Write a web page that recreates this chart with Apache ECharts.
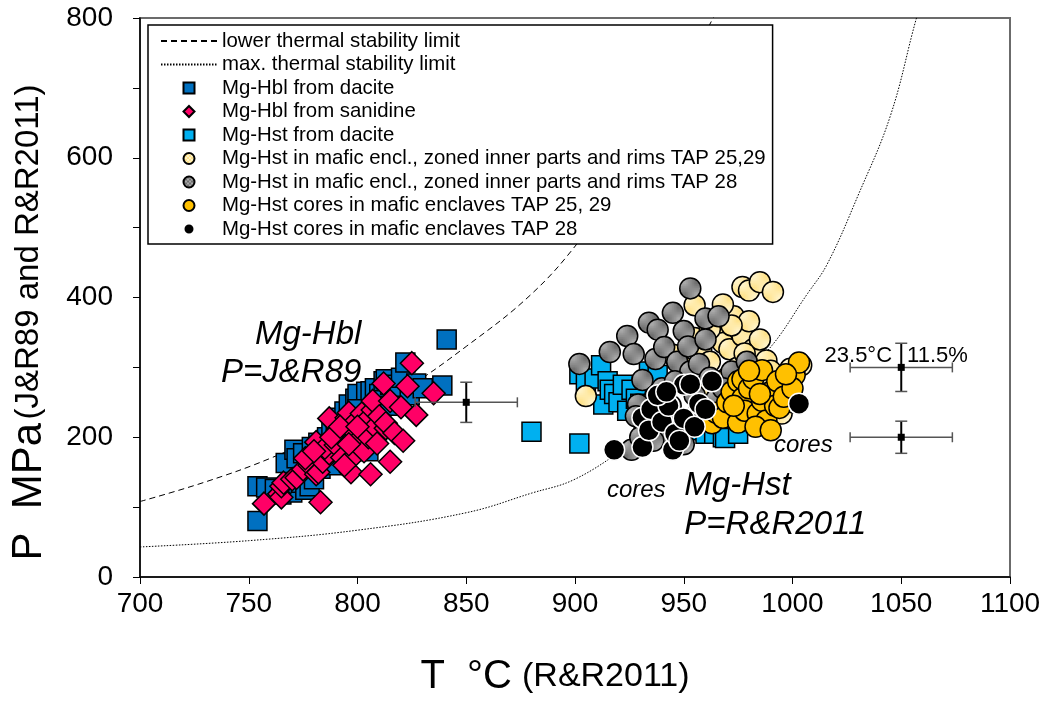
<!DOCTYPE html>
<html>
<head>
<meta charset="utf-8">
<script src="https://cdn.jsdelivr.net/npm/echarts@6/dist/echarts.min.js"></script>
<style>
  html, body { margin: 0; padding: 0; background: #fff; }
  #chart { width: 1046px; height: 702px; }
</style>
</head>
<body>
<div id="chart"></div>
<script>
// ---- Axis ticks ----
const xTicks = [700, 750, 800, 850, 900, 950, 1000, 1050, 1100];
const yTicks = [0, 200, 400, 600, 800];

// ---- Stability limit curves (T °C, P MPa) ----
const lowerLimit = [[700,108],[730,136],[760,170],[790,213],[820,265],[850,330],[880,405],[902,481],[930,600],[963,797],[966,812]];
const maxLimit = [[700,43],[750,52],[800,67],[850,92],[880,120],[900,140],[925,188],[950,238],[970,275],[988,322],[1007,406],[1016,448],[1030,545],[1045,660],[1057,800],[1059,815]];

// ---- Mg-Hbl from dacite (P = J&R89) ----
const hblDacite = [
  [754,80],[754,130],[758,128],[762,126],[765,118],[767,163],[770,121],[771,182],[772,170],[774,135],
  [775,177],[776,125],[778,130],[780,140],[779,186],[782,192],[783,155],[786,200],[787,165],[788,210],
  [790,217],[792,228],[794,237],[796,247],[797,200],[799,255],[800,262],[801,210],[803,225],[804,265],
  [806,266],[808,270],[809,210],[810,262],[812,280],[813,283],[815,275],[818,270],[820,285],[822,307],
  [824,260],[827,277],[830,270],[839,274],[841,340],[805,180],[795,175],[790,160],[800,240],[815,245]
];
// ---- Mg-Hbl from sanidine ----
const hblSanidine = [
  [757,105],[764,119],[765,114],[765,130],[766,135],[770,140],[772,142],[775,154],[778,160],[781,147],
  [782,150],[783,107],[784,165],[787,177],[781,193],[785,185],[787,227],[790,189],[791,210],[793,171],
  [795,228],[796,235],[797,150],[798,219],[799,175],[799,206],[800,195],[802,234],[803,180],[804,224],
  [805,200],[806,147],[807,239],[807,252],[808,215],[809,191],[810,230],[812,277],[813,213],[813,220],
  [815,165],[815,252],[817,206],[820,243],[821,195],[823,273],[825,306],[827,232],[835,263],[788,200],
  [792,215],[794,160],[800,215],[776,170],[780,180],[796,190]
];
// ---- Mg-Hst from dacite ----
const hstDacite = [
  [880,208],[902,191],[902,290],[905,280],[909,284],[912,303],[913,247],[915,280],[916,268],[918,262],
  [920,250],[922,275],[924,238],[926,268],[928,255],[930,248],[934,294],[938,289],[935,240],[940,230],
  [945,220],[950,215],[955,210],[960,205],[964,205],[968,200],[972,210],[969,199],[975,205],[958,225]
];
// ---- Mg-Hst in mafic enclaves, zoned inner parts and rims, TAP 25,29 ----
const hstRims2529 = [
  [905,259],[955,389],[955,342],[958,325],[962,308],[965,350],[968,335],[971,326],[973,373],[975,300],
  [977,345],[977,415],[980,366],[980,410],[982,326],[985,422],[985,340],[988,310],[990,295],[991,408],
  [975,260],[980,250],[985,240],[990,230],[995,234],[999,298],[1004,303],[998,280],[970,285],[965,280],
  [960,270],[972,360],[978,320],[986,290],[995,265],[1000,250],[962,355],[968,390],[950,300],[945,318]
];
// ---- Mg-Hst in mafic enclaves, zoned inner parts and rims, TAP 28 ----
const hstRims28 = [
  [902,305],[916,322],[924,345],[927,319],[931,282],[934,364],[937,312],[938,354],[937,259],[941,329],
  [945,378],[947,308],[950,352],[953,413],[953,294],[957,305],[960,370],[966,373],[972,294],[979,308],
  [929,247],[926,182],[932,215],[935,230],[940,270],[944,245],[948,225],[950,190],[955,260],[958,240],
  [962,285],[965,255],[942,200],[936,195],[930,200],[928,230],[946,280],[952,330],[960,340],[968,270]
];
// ---- Mg-Hst cores, TAP 25, 29 ----
const hstCores2529 = [
  [963,220],[965,235],[968,228],[970,250],[972,265],[975,221],[975,280],[977,256],[977,283],[978,238],
  [980,270],[982,284],[984,234],[986,296],[986,252],[988,224],[990,265],[992,245],[993,280],[994,242],
  [996,258],[1001,289],[1003,307],[1000,270],[973,245],[980,295],[983,215],[990,210],[997,290],[985,262]
];
// ---- Mg-Hst cores, TAP 28 ----
const hstCores28 = [
  [918,182],[931,186],[931,228],[934,210],[935,240],[940,222],[943,245],[945,182],[946,205],[950,227],
  [950,275],[953,276],[955,215],[957,248],[963,280],[938,260],[942,265],[948,195],[960,240],[1003,248]
];

// ---- Error bars: T, P, ±T (°C), ±P (11.5 % of P) ----
const errT = [850, 1050, 1050];
const errP = [250, 300, 200];
const errDT = [23.5, 23.5, 23.5];
const errDP = [28.75, 34.5, 23];

// ---- Text annotations (T, P, text) ----
const noteT = [802, 802, 950.5, 950.5, 914.9, 991.7, 1046, 1052.9];
const noteP = [346, 292, 129.5, 74, 123.5, 188, 316, 316];
const noteText = ['Mg-Hbl', 'P=J&R89', 'Mg-Hst', 'P=R&R2011', 'cores', 'cores', '23.5°C', '11.5%'];
const noteStyle = ['big-r', 'big-r', 'big-l', 'big-l', 'mid-l', 'mid-l', 'small-r', 'small-l'];

const FONT = "'Liberation Sans', Arial, sans-serif";

// checker-textured fills for the zoned-rim symbols
function checker(c1, c2) {
  const cv = document.createElement('canvas');
  cv.width = 4; cv.height = 4;
  const g = cv.getContext('2d');
  g.fillStyle = c1; g.fillRect(0, 0, 4, 4);
  g.fillStyle = c2; g.fillRect(0, 0, 2, 2); g.fillRect(2, 2, 2, 2);
  return { image: cv, repeat: 'repeat' };
}
const yellowTex = checker('#FFE38C', '#FFF3C8');
const grayTex = checker('#6F6F6F', '#A9A9A9');

function pairs(arr) { return arr.map(d => [d[0], d[1]]); }

const names = [
  'lower thermal stability limit',
  'max. thermal stability limit',
  'Mg-Hbl from dacite',
  'Mg-Hbl from sanidine',
  'Mg-Hst from dacite',
  'Mg-Hst in mafic encl., zoned inner parts and rims TAP 25,29',
  'Mg-Hst in mafic encl., zoned inner parts and rims TAP 28',
  'Mg-Hst cores in mafic enclaves TAP 25, 29',
  'Mg-Hst cores in mafic enclaves TAP 28'
];
// square / diamond outlines kept square inside the wide legend item box
const SQUARE = 'path://M0,0H10V10H0Z';
const DIAMOND = 'path://M5,0L10,5L5,10L0,5Z';
const legendIcons = [null, null, SQUARE, DIAMOND, SQUARE, 'circle', 'circle', 'circle', 'circle'];

const errData = errT.map((t, i) => [t, errP[i], errDT[i], errDP[i]]);

const noteFonts = {
  'big-r': { fontSize: 33, align: 'right' },
  'big-l': { fontSize: 33, align: 'left' },
  'mid-l': { fontSize: 24, align: 'left' },
  'small-r': { fontSize: 22, align: 'right', fontStyle: 'normal' },
  'small-l': { fontSize: 22, align: 'left', fontStyle: 'normal' }
};
const noteData = noteT.map((t, i) => {
  const f = noteFonts[noteStyle[i]];
  return {
    value: [t, noteP[i]],
    label: {
      show: true, formatter: noteText[i], position: [0, 0],
      align: f.align, verticalAlign: 'middle',
      fontSize: f.fontSize, fontStyle: f.fontStyle || 'italic',
      fontFamily: FONT, color: '#000', opacity: 1, textBorderWidth: 0
    }
  };
});

function scatter(name, data, symbol, size, color, border, borderW) {
  return {
    name, type: 'scatter', data: pairs(data), symbol, symbolSize: size,
    itemStyle: { color, borderColor: border, borderWidth: borderW, opacity: 1 },
    emphasis: { disabled: true }
  };
}

const legendData = names.map((n, i) => legendIcons[i]
  ? { name: n, icon: legendIcons[i] }
  : { name: n, itemStyle: { opacity: 0 } });

const chart = echarts.init(document.getElementById('chart'), null, { renderer: 'canvas' });
chart.setOption({
  animation: false,
  backgroundColor: '#fff',
  grid: { left: 135, right: 36, top: 18, bottom: 112, show: true, borderColor: '#6b6b6b', borderWidth: 2 },
  xAxis: {
    type: 'value', min: 700, max: 1100, interval: 50,
    name: '{b|T  °C}   {s|(R&R2011)}', nameLocation: 'middle', nameGap: 80,
    nameTextStyle: { padding: [0, 40, 0, 0], rich: {
      b: { fontSize: 40, fontFamily: FONT, color: '#000' },
      s: { fontSize: 34, fontFamily: FONT, color: '#000' } } },
    axisLine: { show: true, onZero: false, lineStyle: { color: '#000', width: 1.5 } },
    axisTick: { show: true, inside: false, length: 7, lineStyle: { color: '#000', width: 1 } },
    axisLabel: { fontSize: 28, fontFamily: FONT, color: '#000', margin: 13,
      formatter: v => xTicks.includes(v) ? String(v) : '' },
    splitLine: { show: false }
  },
  yAxis: {
    type: 'value', min: 0, max: 800, interval: 200,
    name: '{b|P  MPa} {s|(J&R89 and R&R2011)}', nameLocation: 'middle', nameGap: 90, nameRotate: 90,
    nameTextStyle: { padding: [0, 50, 0, 0], rich: {
      b: { fontSize: 42, fontFamily: FONT, color: '#000' },
      s: { fontSize: 33, fontFamily: FONT, color: '#000' } } },
    axisLine: { show: true, onZero: false, lineStyle: { color: '#000', width: 1.5 } },
    axisTick: { show: true, inside: false, length: 7, lineStyle: { color: '#000', width: 1 } },
    minorTick: { show: true, splitNumber: 2, length: 7, lineStyle: { color: '#000', width: 1 } },
    axisLabel: { fontSize: 28, fontFamily: FONT, color: '#000', margin: 27,
      formatter: v => yTicks.includes(v) ? String(v) : '' },
    splitLine: { show: false }
  },
  legend: {
    orient: 'vertical', left: 148, top: 25,
    backgroundColor: '#fff', borderColor: '#000', borderWidth: 1.5,
    padding: [6, 7, 5, 12], itemWidth: 56, itemHeight: 11, itemGap: 3.5,
    symbolKeepAspect: true,
    textStyle: { fontSize: 20.4, fontFamily: FONT, color: '#000' },
    selectedMode: false,
    data: legendData
  },
  series: [
    {
      name: names[0], type: 'line', data: lowerLimit, smooth: 0.4, symbol: 'none', silent: true,
      itemStyle: { color: '#000' },
      lineStyle: { color: '#000', width: 1, type: [6, 4] }, z: 1
    },
    {
      name: names[1], type: 'line', data: maxLimit, smooth: 0.4, symbol: 'none', silent: true,
      itemStyle: { color: '#000' },
      lineStyle: { color: '#000', width: 1, type: [1.5, 1.5] }, z: 1
    },
    scatter(names[2], hblDacite, 'rect', 19, '#0070C0', '#000', 1.5),
    scatter(names[3], hblSanidine, 'diamond', 23, '#FF0066', '#000', 1.5),
    scatter(names[4], hstDacite, 'rect', 19, '#00B0F0', '#000', 1.5),
    scatter(names[5], hstRims2529, 'circle', 21, yellowTex, '#000', 1.5),
    scatter(names[6], hstRims28, 'circle', 21, grayTex, '#000', 1.5),
    scatter(names[7], hstCores2529, 'circle', 21, '#FFC000', '#000', 1.5),
    scatter(names[8], hstCores28, 'circle', 21, '#000', '#fff', 1.5),
    {
      name: 'error bars', type: 'custom', data: errData, silent: true, z: 3,
      renderItem: function (params, api) {
        const t = api.value(0), p = api.value(1), dt = api.value(2), dp = api.value(3);
        const c = api.coord([t, p]);
        const l = api.coord([t - dt, p]);
        const r = api.coord([t + dt, p]);
        const top = api.coord([t, p + dp]);
        const bot = api.coord([t, p - dp]);
        const hs = { stroke: '#555', lineWidth: 1.5 };
        const vs = { stroke: '#000', lineWidth: 2 };
        return {
          type: 'group',
          children: [
            { type: 'line', shape: { x1: l[0], y1: l[1], x2: r[0], y2: r[1] }, style: hs },
            { type: 'line', shape: { x1: l[0], y1: l[1] - 5, x2: l[0], y2: l[1] + 5 }, style: hs },
            { type: 'line', shape: { x1: r[0], y1: r[1] - 5, x2: r[0], y2: r[1] + 5 }, style: hs },
            { type: 'line', shape: { x1: top[0], y1: top[1], x2: bot[0], y2: bot[1] }, style: vs },
            { type: 'line', shape: { x1: top[0] - 6, y1: top[1], x2: top[0] + 6, y2: top[1] }, style: hs },
            { type: 'line', shape: { x1: bot[0] - 6, y1: bot[1], x2: bot[0] + 6, y2: bot[1] }, style: hs },
            { type: 'rect', shape: { x: c[0] - 3.5, y: c[1] - 3.5, width: 7, height: 7 }, style: { fill: '#000' } }
          ]
        };
      }
    },
    {
      name: 'notes', type: 'scatter', data: noteData, symbolSize: 1, silent: true, z: 4,
      itemStyle: { color: 'rgba(0,0,0,0)', opacity: 1 }
    }
  ]
});
</script>
</body>
</html>
